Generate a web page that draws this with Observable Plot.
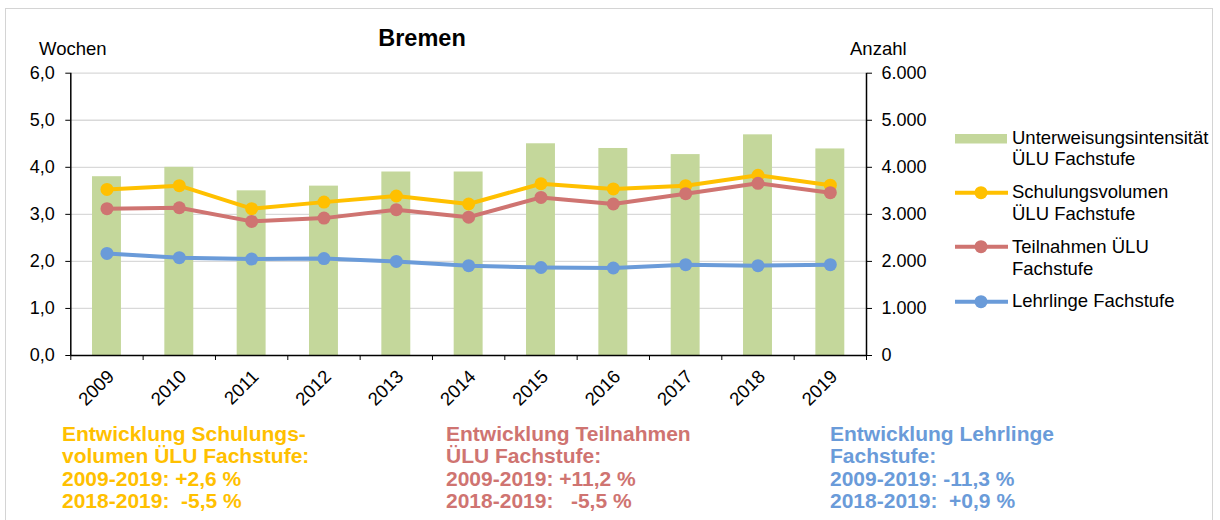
<!DOCTYPE html>
<html>
<head>
<meta charset="utf-8">
<script src="https://cdn.jsdelivr.net/npm/d3@7"></script>
<script src="https://cdn.jsdelivr.net/npm/@observablehq/plot@0.6"></script>
<style>
  body { margin: 0; background: #fff; }
  #wrap { position: relative; width: 1220px; height: 520px; overflow: hidden; background: #fff;
          font-family: "Liberation Sans", Arial, sans-serif; color: #000; }
  .abs { position: absolute; white-space: pre; }
  .frame { position: absolute; left: 5px; top: 8px; width: 1206px; height: 600px; border: 1.5px solid #d4d4d4; }
  .lg { position: absolute; left: 1012px; font-size: 18.5px; line-height: 21.5px; white-space: pre; }
  .note { position: absolute; top: 422.5px; font-size: 21px; font-weight: bold; line-height: 22.5px; white-space: pre; }
</style>
</head>
<body>
<div id="wrap">
  <div class="frame"></div>
  <div id="chart" class="abs" style="left:0;top:0"></div>
  <div class="abs" style="left:322px;width:200px;text-align:center;top:25.3px;font-size:23.5px;line-height:1.15;font-weight:bold">Bremen</div>
  <div class="abs" style="left:39px;top:38px;font-size:18.5px;line-height:1.15">Wochen</div>
  <div class="abs" style="left:850px;top:38px;font-size:18.5px;line-height:1.15">Anzahl</div>
  <svg class="abs" style="left:0;top:0" width="1220" height="520" id="legsw"></svg>
  <div class="lg" style="top:126.8px">Unterweisungsintensität
ÜLU Fachstufe</div>
  <div class="lg" style="top:181.1px">Schulungsvolumen
ÜLU Fachstufe</div>
  <div class="lg" style="top:236.1px">Teilnahmen ÜLU
Fachstufe</div>
  <div class="lg" style="top:289.5px">Lehrlinge Fachstufe</div>
  <div class="note" style="left:62px;color:#FFC000">Entwicklung Schulungs-
volumen ÜLU Fachstufe:
2009-2019: +2,6 %
2018-2019:  -5,5 %</div>
  <div class="note" style="left:446px;color:#CF7471">Entwicklung Teilnahmen
ÜLU Fachstufe:
2009-2019: +11,2 %
2018-2019:   -5,5 %</div>
  <div class="note" style="left:830px;color:#6A9BD9">Entwicklung Lehrlinge
Fachstufe:
2009-2019: -11,3 %
2018-2019:  +0,9 %</div>
</div>
<script>
// ---- data ----
const years = [2009, 2010, 2011, 2012, 2013, 2014, 2015, 2016, 2017, 2018, 2019];
// Unterweisungsintensität ÜLU Fachstufe (Wochen, left axis)
const intensitaet = [3.80, 4.00, 3.50, 3.60, 3.90, 3.90, 4.50, 4.40, 4.27, 4.69, 4.39];
// Anzahl (right axis)
const schulungsvolumen = [3530, 3610, 3120, 3260, 3390, 3220, 3650, 3540, 3610, 3830, 3620];
const teilnahmen = [3120, 3140, 2850, 2920, 3100, 2940, 3360, 3220, 3440, 3660, 3460];
const lehrlinge = [2170, 2080, 2050, 2060, 2000, 1910, 1870, 1860, 1930, 1910, 1930];
const leftTicks = [0, 1, 2, 3, 4, 5, 6];          // Wochen
const rightTicks = [0, 1000, 2000, 3000, 4000, 5000, 6000]; // Anzahl

const colors = { bar: "#C4D79B", gelb: "#FFC000", rot: "#CF7471", blau: "#6A9BD9" };

// right axis (Anzahl) maps onto left axis (Wochen): 6.000 ↔ 6,0
const ratio = rightTicks[rightTicks.length - 1] / leftTicks[leftTicks.length - 1];

const barData = years.map((year, i) => ({ year, value: intensitaet[i] }));
const series = [
  { name: "Schulungsvolumen ÜLU Fachstufe", values: schulungsvolumen, color: colors.gelb },
  { name: "Teilnahmen ÜLU Fachstufe", values: teilnahmen, color: colors.rot },
  { name: "Lehrlinge Fachstufe", values: lehrlinge, color: colors.blau }
].map(s => ({ ...s, data: years.map((year, i) => ({ year, value: s.values[i] / ratio })) }));

const bounds = d3.range(years[0] - 0.5, years[years.length - 1] + 1, 1);
const deFmt = d3.formatLocale({ decimal: ",", thousands: ".", grouping: [3], currency: ["", "€"] });

const lineMarks = series.flatMap(s => [
  Plot.line(s.data, { x: "year", y: "value", stroke: s.color, strokeWidth: 4 }),
  Plot.dot(s.data, { x: "year", y: "value", r: 6.5, fill: s.color, stroke: "none" })
]);

const chart = Plot.plot({
  width: 1220,
  height: 400,
  marginTop: 72.7,
  marginBottom: 45,
  marginLeft: 70.3,
  marginRight: 354,
  x: { type: "linear", domain: [bounds[0], bounds[bounds.length - 1]] },
  y: { domain: [leftTicks[0], leftTicks[leftTicks.length - 1]] },
  style: { fontFamily: "'Liberation Sans', Arial, sans-serif", fontSize: "18px", color: "#000", background: "transparent", overflow: "visible" },
  marks: [
    Plot.ruleY(leftTicks.slice(1), { stroke: "#d9d9d9", strokeWidth: 1.3 }),
    Plot.rect(barData, { x1: d => d.year - 0.5, x2: d => d.year + 0.5, y1: d => 0, y2: "value", insetLeft: 21.7, insetRight: 21.7, fill: colors.bar }),
    ...lineMarks,
    Plot.ruleY([0], { stroke: "#000", strokeWidth: 1.5 }),
    Plot.ruleX([bounds[0], bounds[bounds.length - 1]], { y1: d => leftTicks[0], y2: d => leftTicks[leftTicks.length - 1], stroke: "#000", strokeWidth: 1.5 }),
    Plot.axisY({ anchor: "left", ticks: leftTicks, tickSize: 5, tickPadding: 11, label: null,
      tickFormat: d => deFmt.format(".1f")(d) }),
    Plot.axisY({ anchor: "right", ticks: leftTicks, tickSize: 5, tickPadding: 10, label: null,
      tickFormat: d => deFmt.format(",")(d * ratio) }),
    Plot.axisX({ ticks: bounds, tickSize: 5, tickFormat: () => "", label: null }),
    Plot.axisX({ ticks: years, tickSize: 0, tickPadding: 18, dx: 4, tickRotate: -45, fontSize: 18.5, label: null, tickFormat: d => String(d) })
  ]
});
document.getElementById("chart").appendChild(chart);

// legend swatches
const sw = d3.select("#legsw");
sw.append("rect").attr("x", 955).attr("y", 134).attr("width", 52).attr("height", 9.5).attr("fill", colors.bar);
[[colors.gelb, 192.7], [colors.rot, 246.7], [colors.blau, 301.7]].forEach(([c, y]) => {
  sw.append("line").attr("x1", 955).attr("x2", 1008).attr("y1", y).attr("y2", y).attr("stroke", c).attr("stroke-width", 4);
  sw.append("circle").attr("cx", 981).attr("cy", y).attr("r", 6.5).attr("fill", c);
});
</script>
</body>
</html>
